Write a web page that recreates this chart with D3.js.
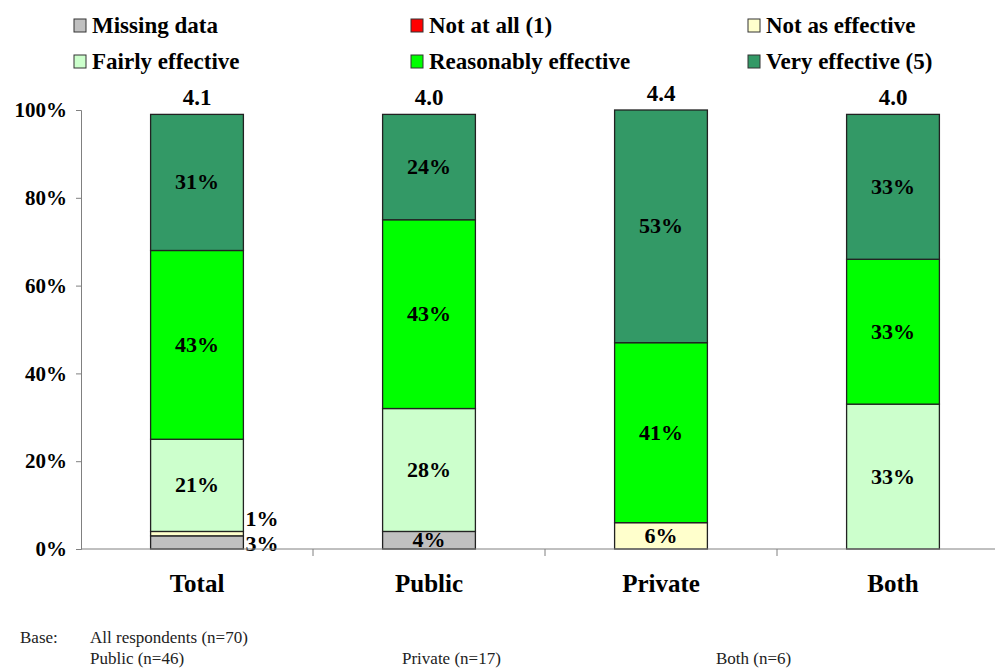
<!DOCTYPE html>
<html>
<head>
<meta charset="utf-8">
<script src="https://cdn.jsdelivr.net/npm/d3@7"></script>
<style>
  body { margin: 0; background: #fff; }
</style>
</head>
<body>
<script>
var width = 995;
var height = 668;
var serif = '"Liberation Serif", "Times New Roman", serif';

// data
var categories = ['Total', 'Public', 'Private', 'Both'];
var seriesNames = ['Missing data', 'Not at all (1)', 'Not as effective', 'Fairly effective', 'Reasonably effective', 'Very effective (5)'];
var seriesColors = ['#C0C0C0', '#FF0000', '#FFFFCC', '#CCFFCC', '#00FF00', '#339966'];
var missing     = [3, 4, 0, 0];
var notAtAll    = [0, 0, 0, 0];
var notAs       = [1, 0, 6, 0];
var fairly      = [21, 28, 0, 33];
var reasonably  = [43, 43, 41, 33];
var very        = [31, 24, 53, 33];
var meanScores  = ['4.1', '4.0', '4.4', '4.0'];
var yTicks = [0, 20, 40, 60, 80, 100];

var series = [missing, notAtAll, notAs, fairly, reasonably, very];

var rows = categories.map(function(c, i) {
  var r = { cat: c };
  seriesNames.forEach(function(s, j) { r[s] = series[j][i]; });
  return r;
});

var stacked = d3.stack().keys(seriesNames)(rows);

var svg = d3.select('body').append('svg')
  .attr('width', width)
  .attr('height', height)
  .style('font-family', serif);

var x = d3.scaleBand().domain(categories).range([81, 1009]).paddingInner(0.6).paddingOuter(0.3);
var xTick = d3.scaleBand().domain(categories).range([81, 1009]);
var y = d3.scaleLinear().domain([0, 100]).range([549, 110]);

// legend
var legend = svg.append('g');
seriesNames.forEach(function(s, i) {
  var lx = 74 + (i % 3) * 337;
  var ly = 26 + Math.floor(i / 3) * 36;
  legend.append('rect')
    .attr('x', lx).attr('y', ly - 7)
    .attr('width', 12).attr('height', 13)
    .attr('fill', seriesColors[i])
    .attr('stroke', '#333').attr('stroke-width', 1);
  legend.append('text')
    .attr('x', lx + 18).attr('y', ly + 7)
    .style('font-family', serif)
    .attr('font-size', 23).attr('font-weight', 'bold')
    .text(s);
});

// bars
var layers = svg.selectAll('g.layer').data(stacked).enter().append('g')
  .attr('class', 'layer')
  .attr('fill', function(d, i) { return seriesColors[i]; });

layers.selectAll('rect').data(function(d) { return d.filter(function(p) { return p[1] - p[0] > 0; }); })
  .enter().append('rect')
  .attr('x', function(d) { return x(d.data.cat); })
  .attr('y', function(d) { return y(d[1]); })
  .attr('width', x.bandwidth())
  .attr('height', function(d) { return y(d[0]) - y(d[1]); })
  .attr('stroke', '#222')
  .attr('stroke-width', 1.3);

// segment labels
stacked.forEach(function(layer) {
  layer.forEach(function(p) {
    var v = p[1] - p[0];
    if (v <= 0) return;
    var cx = x(p.data.cat) + x.bandwidth() / 2;
    var cy = y((p[0] + p[1]) / 2) + 7;
    var anchor = 'middle';
    if (v < 4) {
      // small segments: label to the right of the bar
      cx = x(p.data.cat) + x.bandwidth() + 2;
      anchor = 'start';
      cy = layer.key === 'Missing data' ? y(0) + 2 : y(p[1]) - 5;
    }
    svg.append('text')
      .attr('x', cx).attr('y', cy)
      .attr('text-anchor', anchor)
      .style('font-family', serif)
      .attr('font-size', 22).attr('font-weight', 'bold')
      .text(v + '%');
  });
});

// mean scores
categories.forEach(function(c, i) {
  var top = d3.sum(series, function(s) { return s[i]; });
  svg.append('text')
    .attr('x', x(c) + x.bandwidth() / 2)
    .attr('y', y(top) - 9)
    .attr('text-anchor', 'middle')
    .style('font-family', serif)
    .attr('font-size', 23).attr('font-weight', 'bold')
    .text(meanScores[i]);
});

// y axis
var yAxis = svg.append('g')
  .attr('transform', 'translate(81,0)')
  .call(d3.axisLeft(y).tickValues(yTicks).tickSize(5).tickPadding(9).tickFormat(function(d) { return d + '%'; }));
yAxis.selectAll('path, line').attr('stroke', '#808080');
yAxis.selectAll('text')
  .attr('font-size', 21).attr('font-weight', 'bold').attr('fill', '#000')
  .style('font-family', serif);

// x axis
svg.append('line')
  .attr('x1', 81).attr('x2', width)
  .attr('y1', y(0)).attr('y2', y(0))
  .attr('stroke', '#808080');
categories.slice(1).forEach(function(c) {
  svg.append('line')
    .attr('x1', xTick(c)).attr('x2', xTick(c))
    .attr('y1', y(0)).attr('y2', y(0) + 7)
    .attr('stroke', '#808080');
});
categories.forEach(function(c) {
  svg.append('text')
    .attr('x', x(c) + x.bandwidth() / 2)
    .attr('y', 592)
    .attr('text-anchor', 'middle')
    .style('font-family', serif)
    .attr('font-size', 25).attr('font-weight', 'bold')
    .text(c);
});

// base note
var note = svg.append('g').attr('font-size', 17).attr('fill', '#222').style('font-family', serif);
note.append('text').attr('x', 20).attr('y', 643).text('Base:');
note.append('text').attr('x', 90).attr('y', 643).text('All respondents (n=70)');
note.append('text').attr('x', 90).attr('y', 664).text('Public (n=46)');
note.append('text').attr('x', 402).attr('y', 664).text('Private (n=17)');
note.append('text').attr('x', 716).attr('y', 664).text('Both (n=6)');
</script>
</body>
</html>
